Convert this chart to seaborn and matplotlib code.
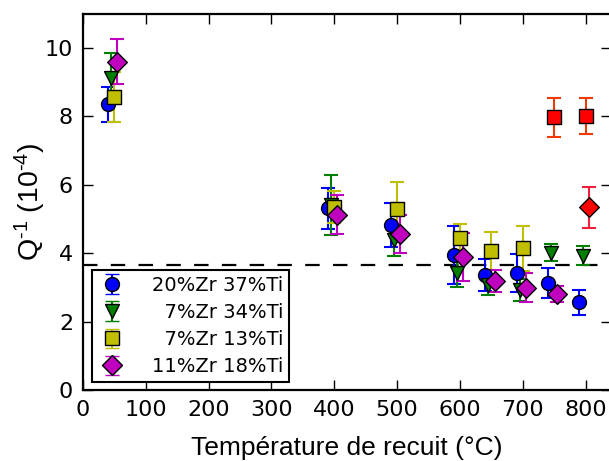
import numpy as np
import pandas as pd
import matplotlib
matplotlib.use("Agg")
import matplotlib.pyplot as plt
import seaborn as sns

# ---- data ----
series_names = ["20%Zr 37%Ti", "7%Zr 34%Ti", "7%Zr 13%Ti", "11%Zr 18%Ti"]
legend_labels = ["20%Zr 37%Ti", "  7%Zr 34%Ti", "  7%Zr 13%Ti", "11%Zr 18%Ti"]

t_blue = [40, 390, 490, 590, 640, 690, 740, 790]
q_blue = [8.35, 5.32, 4.82, 3.95, 3.36, 3.42, 3.13, 2.56]
e_blue = [0.52, 0.60, 0.65, 0.85, 0.47, 0.55, 0.43, 0.37]

t_green = [45, 395, 495, 595, 645, 695, 745, 795]
q_green = [9.12, 5.42, 4.39, 3.42, 3.07, 2.92, 4.02, 3.93]
e_green = [0.72, 0.88, 0.47, 0.40, 0.30, 0.32, 0.25, 0.28]

t_yellow = [50, 400, 500, 600, 650, 700]
q_yellow = [8.57, 5.35, 5.29, 4.44, 4.06, 4.14]
e_yellow = [0.72, 0.48, 0.78, 0.42, 0.55, 0.67]

t_magenta = [55, 405, 505, 605, 655, 705, 755]
q_magenta = [9.60, 5.13, 4.56, 3.90, 3.19, 2.99, 2.81]
e_magenta = [0.66, 0.57, 0.56, 0.70, 0.32, 0.42, 0.23]

t_red_sq = [750, 800]
q_red_sq = [7.98, 8.02]
e_red_sq = [0.57, 0.52]

t_red_d = [805]
q_red_d = [5.35]
e_red_d = [0.60]

ref_level = 3.65

colors = ["#0000ff", "#007f00", "#bfbf00", "#bf00bf"]
markers = ["o", "v", "s", "D"]

frames = []
for name, t, q, e in zip(series_names,
                         [t_blue, t_green, t_yellow, t_magenta],
                         [q_blue, q_green, q_yellow, q_magenta],
                         [e_blue, e_green, e_yellow, e_magenta]):
    frames.append(pd.DataFrame({"T": t, "Q": q, "err": e, "série": name}))
df = pd.concat(frames, ignore_index=True)

sns.set_style("ticks")
plt.rcParams['font.family'] = ['DejaVu Sans']
plt.rcParams['text.color'] = 'black'
plt.rcParams['axes.labelcolor'] = 'black'
plt.rcParams['xtick.color'] = 'black'
plt.rcParams['ytick.color'] = 'black'
plt.rcParams['mathtext.fontset'] = 'custom'
plt.rcParams['mathtext.rm'] = 'Liberation Sans'
plt.rcParams['mathtext.it'] = 'Liberation Sans:italic'
plt.rcParams['mathtext.bf'] = 'Liberation Sans:bold'

fig = plt.figure(figsize=(6.09, 4.61), dpi=100)
ax = fig.add_axes([0.136, 0.154, 0.868, 0.816])

ax.axhline(ref_level, color="black", lw=1.6, dashes=(6.5, 6), zorder=1)

for i, name in enumerate(series_names):
    sub = df[df["série"] == name]
    ax.errorbar(sub["T"], sub["Q"], yerr=sub["err"], fmt="none",
                ecolor=colors[i], elinewidth=1.5, capsize=5, capthick=1.5, zorder=2)
    sns.scatterplot(x=sub["T"], y=sub["Q"], marker=markers[i], color=colors[i],
                    s=100, edgecolor="black", linewidth=1, ax=ax, zorder=3,
                    legend=False)

ax.errorbar(t_red_sq, q_red_sq, yerr=e_red_sq, fmt="none", ecolor="#f03a00",
            elinewidth=1.5, capsize=5, capthick=1.5, zorder=2)
sns.scatterplot(x=t_red_sq, y=q_red_sq, marker="s", color="#ff0000", s=100,
                edgecolor="black", linewidth=1, ax=ax, zorder=3, legend=False)
ax.errorbar(t_red_d, q_red_d, yerr=e_red_d, fmt="none", ecolor="#f0203c",
            elinewidth=1.5, capsize=5, capthick=1.5, zorder=2)
sns.scatterplot(x=t_red_d, y=q_red_d, marker="D", color="#ff0000", s=100,
                edgecolor="black", linewidth=1, ax=ax, zorder=3, legend=False)

# legend proxies
handles = []
for i, lab in enumerate(legend_labels):
    h = ax.errorbar([np.nan], [np.nan], yerr=[np.nan], fmt=markers[i],
                    color=colors[i], mfc=colors[i], mec="black", ms=10,
                    ecolor=colors[i], elinewidth=1.5, capsize=5, label=lab)
    handles.append(h)
leg = ax.legend(handles=handles, labels=legend_labels, loc="lower left",
                bbox_to_anchor=(0.017, 0.021), fontsize=14, frameon=True,
                fancybox=False, framealpha=1, edgecolor="black",
                handlelength=1.5, borderpad=0.3, labelspacing=0.42,
                handletextpad=1.3, borderaxespad=0)
leg.get_frame().set_linewidth(1.5)
leg.set_zorder(5)

ax.set_xlim(0, 841)
ax.set_ylim(0, 11)
ax.set_xticks(np.arange(0, 900, 100))
ax.set_yticks(np.arange(0, 12, 2))
ax.tick_params(direction="in", length=7, width=1, labelsize=16,
               top=True, right=True, pad=7)
for s in ax.spines.values():
    s.set_linewidth(1.6)
    s.set_color("black")

ax.set_xlabel("Température de recuit (°C)", fontsize=19, labelpad=12,
              family=["Liberation Sans", "DejaVu Sans"])
ax.set_ylabel("Q$^{\\text{-1}}$ (10$^{\\text{-4}}$)", fontsize=20.5, labelpad=-2,
              family=["Liberation Sans", "DejaVu Sans"])

fig.savefig("out.png", dpi=100)
